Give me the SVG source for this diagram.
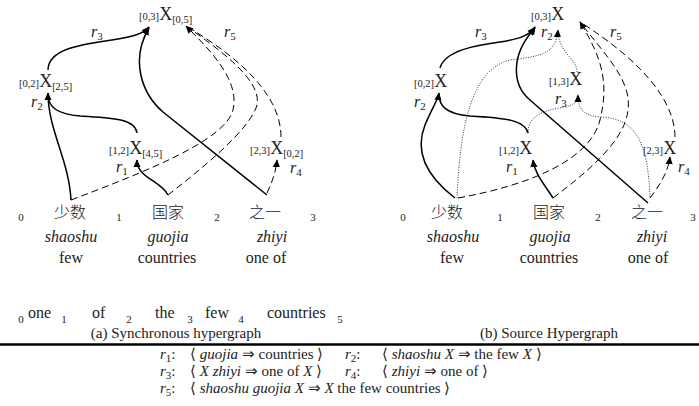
<svg xmlns="http://www.w3.org/2000/svg" width="699" height="406" viewBox="0 0 699 406">
<defs>
<marker id="ah" viewBox="0 0 10 10" refX="9" refY="5" markerWidth="8" markerHeight="8" markerUnits="userSpaceOnUse" orient="auto">
<path d="M0,0.5 L10,5 L0,9.5 z" fill="#000"/>
</marker>
<style>
text,tspan{font-family:"Liberation Serif","Times New Roman",serif;fill:#222}
.cjk{font-family:"Noto Sans CJK SC",sans-serif;font-size:16px;font-weight:300}
.nd{font-size:18px}
.sb{font-size:10.5px}
.w{font-size:16px}
.it{font-style:italic}
.ix{font-size:11px}
.cap{font-size:15px}
.rl{font-size:15px}
.ln{fill:none;stroke:#000;stroke-width:1.5}
.ds{fill:none;stroke:#000;stroke-width:1;stroke-dasharray:7 4}
.dt{fill:none;stroke:#000;stroke-width:0.8;stroke-dasharray:1 1.5}
</style>
</defs>
<rect width="699" height="406" fill="#fff"/>

<!-- connectors -->
<g id="connectors">
<!-- left panel -->
<path class="ln" d="M48,70 C48,48 85,44 112,40 C132,37 143,34 149,27" marker-end="url(#ah)"/>
<path class="ln" d="M267,195 L163,112 C140,92 131,58 149,28" marker-end="url(#ah)"/>
<path class="ln" d="M71,200 C69,160 48,130 48,93" marker-end="url(#ah)"/>
<path class="ln" d="M137,133 C135,118 110,118 80,116 C58,114 48,108 48,94"/>
<path class="ln" d="M168,195 C160,180 137,178 137,160" marker-end="url(#ah)"/>
<path class="ds" d="M267,193 C272,182 276,172 277,160" marker-end="url(#ah)"/>
<path class="ds" d="M71,200 C150,170 225,140 233,110 C240,80 210,50 186,26" marker-end="url(#ah)"/>
<path class="ds" d="M168,195 C200,170 250,130 257,105 C262,80 220,50 186,26"/>
<path class="ds" d="M281,137 C281,95 240,58 186,26"/>
<!-- right panel -->
<path class="ln" d="M440,68 C445,50 478,45 500,42 C520,39 530,35 535,27" marker-end="url(#ah)"/>
<path class="ln" d="M648,203 L530,100 C512,85 510,55 535,28" marker-end="url(#ah)"/>
<path class="ln" d="M455,198 C425,175 415,150 425,125 C432,108 438,100 439,93" marker-end="url(#ah)"/>
<path class="ln" d="M528,133 C525,120 505,118 470,116 C445,114 439,105 439,94"/>
<path class="ln" d="M553,198 C545,185 535,175 533,160" marker-end="url(#ah)"/>
<path class="dt" d="M457,198 C460,130 470,70 510,60 C540,56 556,55 558,30" marker-end="url(#ah)"/>
<path class="dt" d="M577,72 C577,58 560,55 558,32"/>
<path class="dt" d="M528,133 C528,115 545,110 565,107 C575,105 578,100 578,95" marker-end="url(#ah)"/>
<path class="dt" d="M650,197 C648,150 640,118 600,117 C585,116 578,110 578,96"/>
<path class="ds" d="M650,198 C660,185 668,172 670,157" marker-end="url(#ah)"/>
<path class="ds" d="M458,198 C530,185 590,160 600,120 C610,80 600,55 580,22" marker-end="url(#ah)"/>
<path class="ds" d="M553,198 C590,170 625,140 628,110 C632,80 605,55 580,22"/>
<path class="ds" d="M675,137 C675,100 640,60 580,22"/>
</g>

<!-- left panel nodes -->
<g id="a-top"><text x="139" y="20"><tspan class="sb">[0,3]</tspan><tspan class="nd">X</tspan><tspan class="sb" dy="3">[0,5]</tspan></text></g>
<g id="a-02"><text x="19" y="87"><tspan class="sb">[0,2]</tspan><tspan class="nd">X</tspan><tspan class="sb" dy="3">[2,5]</tspan></text></g>
<g id="a-12"><text x="109" y="154"><tspan class="sb">[1,2]</tspan><tspan class="nd">X</tspan><tspan class="sb" dy="3">[4,5]</tspan></text></g>
<g id="a-23"><text x="250" y="154"><tspan class="sb">[2,3]</tspan><tspan class="nd">X</tspan><tspan class="sb" dy="3">[0,2]</tspan></text></g>
<g id="a-labels">
<text x="91" y="37" class="w"><tspan class="it">r</tspan><tspan class="ix" dy="3">3</tspan></text>
<text x="224" y="37" class="w"><tspan class="it">r</tspan><tspan class="ix" dy="3">5</tspan></text>
<text x="31" y="107" class="w"><tspan class="it">r</tspan><tspan class="ix" dy="3">2</tspan></text>
<text x="116" y="172" class="w"><tspan class="it">r</tspan><tspan class="ix" dy="3">1</tspan></text>
<text x="290" y="173" class="w"><tspan class="it">r</tspan><tspan class="ix" dy="3">4</tspan></text>
</g>
<g id="a-words">
<text x="21" y="221" class="ix" text-anchor="middle">0</text>
<text x="119" y="221" class="ix" text-anchor="middle">1</text>
<text x="217" y="221" class="ix" text-anchor="middle">2</text>
<text x="313" y="221" class="ix" text-anchor="middle">3</text>
<text x="70" y="218" class="cjk" text-anchor="middle">少数</text>
<text x="168" y="218" class="cjk" text-anchor="middle">国家</text>
<text x="265" y="218" class="cjk" text-anchor="middle">之一</text>
<text x="71" y="242" class="w it" text-anchor="middle">shaoshu</text>
<text x="168" y="242" class="w it" text-anchor="middle">guojia</text>
<text x="272" y="242" class="w it" text-anchor="middle">zhiyi</text>
<text x="71" y="263" class="w" text-anchor="middle">few</text>
<text x="167" y="263" class="w" text-anchor="middle">countries</text>
<text x="266" y="263" class="w" text-anchor="middle">one of</text>
</g>
<g id="a-target">
<text x="21" y="323" class="ix" text-anchor="middle">0</text>
<text x="28" y="318" class="w">one</text>
<text x="64" y="323" class="ix" text-anchor="middle">1</text>
<text x="92" y="318" class="w">of</text>
<text x="129" y="323" class="ix" text-anchor="middle">2</text>
<text x="155" y="318" class="w">the</text>
<text x="190" y="323" class="ix" text-anchor="middle">3</text>
<text x="205" y="318" class="w">few</text>
<text x="241" y="323" class="ix" text-anchor="middle">4</text>
<text x="267" y="318" class="w">countries</text>
<text x="340" y="323" class="ix" text-anchor="middle">5</text>
</g>
<text x="176" y="338" class="cap" text-anchor="middle">(a) Synchronous hypergraph</text>

<!-- right panel nodes -->
<g id="b-top"><text x="531" y="20"><tspan class="sb">[0,3]</tspan><tspan class="nd">X</tspan></text></g>
<g id="b-02"><text x="414" y="87"><tspan class="sb">[0,2]</tspan><tspan class="nd">X</tspan></text></g>
<g id="b-13"><text x="549" y="85"><tspan class="sb">[1,3]</tspan><tspan class="nd">X</tspan></text></g>
<g id="b-12"><text x="499" y="154"><tspan class="sb">[1,2]</tspan><tspan class="nd">X</tspan></text></g>
<g id="b-23"><text x="643" y="154"><tspan class="sb">[2,3]</tspan><tspan class="nd">X</tspan></text></g>
<g id="b-labels">
<text x="475" y="37" class="w"><tspan class="it">r</tspan><tspan class="ix" dy="3">3</tspan></text>
<text x="541" y="37" class="w"><tspan class="it">r</tspan><tspan class="ix" dy="3">2</tspan></text>
<text x="610" y="37" class="w"><tspan class="it">r</tspan><tspan class="ix" dy="3">5</tspan></text>
<text x="414" y="107" class="w"><tspan class="it">r</tspan><tspan class="ix" dy="3">2</tspan></text>
<text x="555" y="104" class="w"><tspan class="it">r</tspan><tspan class="ix" dy="3">3</tspan></text>
<text x="506" y="172" class="w"><tspan class="it">r</tspan><tspan class="ix" dy="3">1</tspan></text>
<text x="678" y="172" class="w"><tspan class="it">r</tspan><tspan class="ix" dy="3">4</tspan></text>
</g>
<g id="b-words">
<text x="403" y="221" class="ix" text-anchor="middle">0</text>
<text x="500" y="221" class="ix" text-anchor="middle">1</text>
<text x="598" y="221" class="ix" text-anchor="middle">2</text>
<text x="693" y="221" class="ix" text-anchor="middle">3</text>
<text x="447" y="218" class="cjk" text-anchor="middle">少数</text>
<text x="549" y="218" class="cjk" text-anchor="middle">国家</text>
<text x="647" y="218" class="cjk" text-anchor="middle">之一</text>
<text x="453" y="242" class="w it" text-anchor="middle">shaoshu</text>
<text x="550" y="242" class="w it" text-anchor="middle">guojia</text>
<text x="652" y="242" class="w it" text-anchor="middle">zhiyi</text>
<text x="452" y="263" class="w" text-anchor="middle">few</text>
<text x="549" y="263" class="w" text-anchor="middle">countries</text>
<text x="648" y="263" class="w" text-anchor="middle">one of</text>
</g>
<text x="549" y="338" class="cap" text-anchor="middle">(b) Source Hypergraph</text>

<line x1="0" y1="344.5" x2="699" y2="344.5" stroke="#000" stroke-width="2.5"/>

<g id="rules">
<text x="160" y="359" class="rl"><tspan class="it">r</tspan><tspan class="ix" dy="3">1</tspan><tspan dy="-3">:</tspan></text>
<text x="190" y="359" class="rl">⟨ <tspan class="it">guojia</tspan> ⇒ countries ⟩</text>
<text x="345" y="359" class="rl"><tspan class="it">r</tspan><tspan class="ix" dy="3">2</tspan><tspan dy="-3">:</tspan></text>
<text x="382" y="359" class="rl">⟨ <tspan class="it">shaoshu X</tspan> ⇒ the few <tspan class="it">X</tspan> ⟩</text>
<text x="160" y="376" class="rl"><tspan class="it">r</tspan><tspan class="ix" dy="3">3</tspan><tspan dy="-3">:</tspan></text>
<text x="190" y="376" class="rl">⟨ <tspan class="it">X zhiyi</tspan> ⇒ one of <tspan class="it">X</tspan> ⟩</text>
<text x="345" y="376" class="rl"><tspan class="it">r</tspan><tspan class="ix" dy="3">4</tspan><tspan dy="-3">:</tspan></text>
<text x="382" y="376" class="rl">⟨ <tspan class="it">zhiyi</tspan> ⇒ one of ⟩</text>
<text x="160" y="393" class="rl"><tspan class="it">r</tspan><tspan class="ix" dy="3">5</tspan><tspan dy="-3">:</tspan></text>
<text x="190" y="393" class="rl">⟨ <tspan class="it">shaoshu guojia X</tspan> ⇒ <tspan class="it">X</tspan> the few countries ⟩</text>
</g>
</svg>
